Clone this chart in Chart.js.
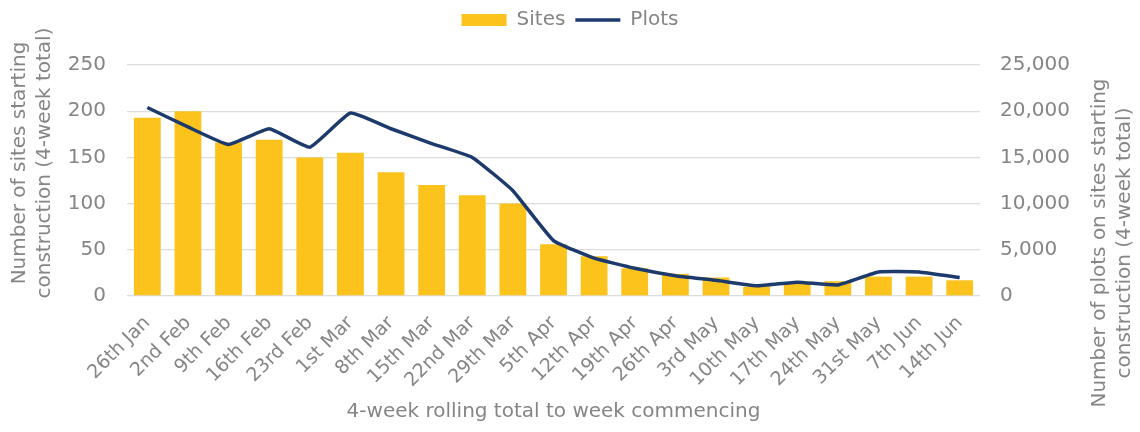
<!DOCTYPE html>
<html>
<head>
<meta charset="utf-8">
<script src="https://cdn.jsdelivr.net/npm/chart.js@4.4.1/dist/chart.umd.min.js"></script>
<style>
  html,body{margin:0;padding:0;background:#fff;}
  #wrap{width:1140px;height:432px;position:relative;}
</style>
</head>
<body>
<div id="wrap"><canvas id="myCanvas"></canvas></div>
<script>
// weekly rolling totals
var weeks=['26th Jan','2nd Feb','9th Feb','16th Feb','23rd Feb','1st Mar','8th Mar','15th Mar','22nd Mar','29th Mar',
  '5th Apr','12th Apr','19th Apr','26th Apr','3rd May','10th May','17th May','24th May','31st May','7th Jun','14th Jun'];
var sites=[193,200,166,169,150,155,134,120,109,100,56,43,30,24,20,10,13,16,21,21,17];
var plots=[20400,18300,16400,18100,16100,19800,18100,16500,15000,11400,6000,4100,3000,2200,1700,1100,1500,1200,2600,2600,2000];

var sitesTitle=['Number of sites starting','construction (4-week total)'];
var plotsTitle=['Number of plots on sites starting','construction (4-week total)'];
var xTitle='4-week rolling total to week commencing';

var grey='#858585';
var yellow='#fbc31c';
var navy='#1d3a6c';
var fontFamily='"DejaVu Sans", sans-serif';

Chart.defaults.font.family=fontFamily;
Chart.defaults.font.size=20;
Chart.defaults.color=grey;

// both y titles read bottom-to-top, so draw them by hand
var sideTitles={
  id:'sideTitles',
  afterDraw:function(chart){
    var ctx=chart.ctx;
    function put(lines,x,y){
      ctx.save();
      ctx.translate(x,y);
      ctx.rotate(-Math.PI/2);
      ctx.textAlign='center';
      ctx.textBaseline='middle';
      for(var i=0;i<lines.length;i++){
        ctx.fillText(lines[i],0,i*25);
      }
      ctx.restore();
    }
    ctx.save();
    ctx.fillStyle=grey;
    ctx.font='20px '+fontFamily;
    put(sitesTitle,20,163);
    put(plotsTitle,chart.width-40,243);
    ctx.restore();
  }
};

// extra room under the legend
var legendGap={
  id:'legendGap',
  beforeInit:function(chart){
    var fit=chart.legend.fit;
    chart.legend.fit=function(){
      fit.call(this);
      this.height+=25;
    };
  }
};

var ctx=document.getElementById('myCanvas');
var myChart=new Chart(ctx,{
  type:'bar',
  data:{
    labels:weeks,
    datasets:[
      {
        label:'Sites',
        data:sites,
        backgroundColor:yellow,
        borderWidth:0,
        yAxisID:'y',
        categoryPercentage:1,
        barPercentage:0.66,
        order:1
      },
      {
        type:'line',
        label:'Plots',
        data:plots,
        borderColor:navy,
        backgroundColor:navy,
        borderWidth:3.5,
        pointRadius:0,
        tension:0.12,
        fill:false,
        yAxisID:'y1',
        order:0
      }
    ]
  },
  options:{
    responsive:true,
    maintainAspectRatio:false,
    animation:false,
    plugins:{
      tooltip:{enabled:false},
      legend:{
        position:'top',
        labels:{
          usePointStyle:true,
          pointStyleWidth:45,
          boxHeight:12,
          padding:10,
          color:grey,
          font:{size:20},
          sort:function(a,b){return a.datasetIndex-b.datasetIndex;},
          generateLabels:function(chart){
            var items=Chart.defaults.plugins.legend.labels.generateLabels(chart);
            items.forEach(function(it){
              it.pointStyle=it.datasetIndex===0?'rect':'line';
            });
            return items;
          }
        }
      }
    },
    scales:{
      x:{
        grid:{display:false},
        border:{display:false},
        ticks:{minRotation:45,maxRotation:45,autoSkip:false,padding:8,color:grey,font:{size:19}},
        title:{display:true,text:xTitle,color:grey,font:{size:20},padding:{top:0,bottom:8}},
        afterFit:function(scale){scale.height=136;}
      },
      y:{
        position:'left',
        min:0,max:250,
        ticks:{stepSize:50,padding:21,color:grey,font:{size:20}},
        grid:{color:'#dcdcdc',lineWidth:1.3,drawTicks:false},
        border:{display:false},
        afterFit:function(scale){scale.width=127;}
      },
      y1:{
        position:'right',
        min:0,max:25000,
        ticks:{stepSize:5000,padding:20,color:grey,font:{size:20},
          callback:function(v){return v.toLocaleString('en-GB');}},
        grid:{display:false,drawTicks:false},
        border:{display:false},
        afterFit:function(scale){scale.width=160;}
      }
    }
  },
  plugins:[sideTitles,legendGap]
});
</script>
</body>
</html>
